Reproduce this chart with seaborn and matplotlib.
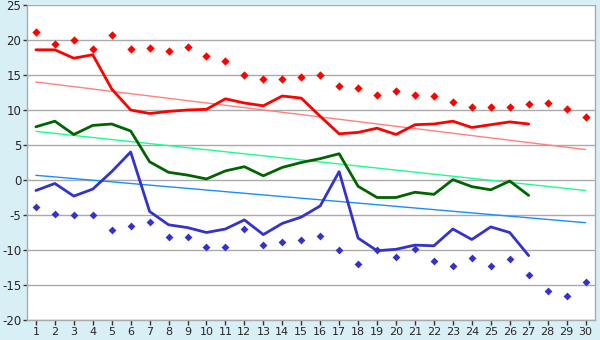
import matplotlib
matplotlib.use("Agg")
import matplotlib.pyplot as plt
import seaborn as sns

# Days of the month
days = list(range(1, 31))
line_days = list(range(1, 28))

# Daily maximum temperature
temp_max = [18.6, 18.6, 17.4, 17.9, 13.0, 10.0, 9.5, 9.8, 10.0, 10.1,
            11.6, 11.0, 10.6, 12.0, 11.7, 9.1, 6.6, 6.8, 7.4, 6.5,
            7.9, 8.0, 8.4, 7.5, 7.9, 8.3, 8.0]
# Daily mean temperature
temp_mean = [7.6, 8.4, 6.5, 7.8, 8.0, 7.0, 2.6, 1.1, 0.7, 0.15,
             1.3, 1.9, 0.6, 1.8, 2.5, 3.05, 3.75, -0.9, -2.5, -2.5,
             -1.75, -2.05, 0.05, -0.95, -1.4, -0.15, -2.2]
# Daily minimum temperature
temp_min = [-1.5, -0.5, -2.3, -1.3, 1.2, 4.0, -4.5, -6.4, -6.8, -7.5,
            -7.0, -5.7, -7.8, -6.2, -5.3, -3.7, 1.2, -8.3, -10.1, -9.9,
            -9.3, -9.4, -7.0, -8.5, -6.7, -7.5, -10.8]

# Record high and record low for each day
record_high = [21.2, 19.4, 20.0, 18.7, 20.7, 18.7, 18.8, 18.5, 19.0, 17.7,
               17.0, 15.0, 14.5, 14.5, 14.7, 15.0, 13.4, 13.2, 12.2, 12.7,
               12.2, 12.0, 11.1, 10.4, 10.4, 10.4, 10.8, 11.0, 10.2, 9.0]
record_low = [-3.8, -4.8, -5.0, -5.0, -7.2, -6.6, -6.0, -8.2, -8.2, -9.6,
              -9.6, -7.0, -9.3, -8.8, -8.5, -8.0, -10.0, -12.0, -10.0, -11.0,
              -9.8, -11.6, -12.3, -11.2, -12.3, -11.3, -13.6, -15.9, -16.6, -14.6]

# Long-term normals at start and end of the month
normal_days = [1, 30]
normal_max = [14.0, 4.35]
normal_mean = [6.95, -1.5]
normal_min = [0.67, -6.1]

y_ticks = [-20, -15, -10, -5, 0, 5, 10, 15, 20, 25]
y_labels = ["-20", "-15", "-10", "-5", "0", "5", "10", "15", "20", "25"]
x_labels = [str(d) for d in days]

bg = "#d9eff6"
grid_c = "#aaaaaa"

sns.set_theme(style="white")
plt.rcParams["font.family"] = ["DejaVu Sans"]

fig = plt.figure(figsize=(6, 3.4), dpi=100, facecolor=bg)
ax = fig.add_axes([27 / 600, 1 - 320 / 340, (595 - 27) / 600, (320 - 5) / 340])
ax.set_facecolor("white")

for yv in y_ticks:
    ax.axhline(yv, color=grid_c, lw=1.0, zorder=0)

# Normals
sns.lineplot(x=normal_days, y=normal_max, ax=ax, color="#ff8080", lw=1.0, zorder=1)
sns.lineplot(x=normal_days, y=normal_mean, ax=ax, color="#1aff8c", lw=1.0, zorder=1)
sns.lineplot(x=normal_days, y=normal_min, ax=ax, color="#1a8cff", lw=1.0, zorder=1)

# Records
sns.scatterplot(x=days, y=record_high, ax=ax, color="#ff0000", marker="D",
                s=18, linewidth=0, zorder=2)
sns.scatterplot(x=days, y=record_low, ax=ax, color="#3333cc", marker="D",
                s=16, linewidth=0, zorder=2)

# Daily values
sns.lineplot(x=line_days, y=temp_max, ax=ax, color="#ff0000", lw=2.0, zorder=3)
sns.lineplot(x=line_days, y=temp_mean, ax=ax, color="#006400", lw=2.0, zorder=3)
sns.lineplot(x=line_days, y=temp_min, ax=ax, color="#3333cc", lw=2.0, zorder=3)

ax.set_xlim(0.53, 30.5)
ax.set_ylim(-20, 25)
ax.set_xticks(days)
ax.set_xticklabels(x_labels)
ax.set_yticks(y_ticks)
ax.set_yticklabels(y_labels)
ax.set_xlabel("")
ax.set_ylabel("")

for side in ["left", "bottom", "right"]:
    ax.spines[side].set_visible(True)
    ax.spines[side].set_color(grid_c)
    ax.spines[side].set_linewidth(1.0)
ax.spines["top"].set_visible(False)

ax.tick_params(axis="x", which="major", direction="out", length=3.6, width=1,
               color="#333333", labelsize=8, pad=1.5, bottom=True)
ax.tick_params(axis="y", which="major", direction="out", length=3, width=1,
               color="#333333", labelsize=8.5, pad=1, left=True)
ax.grid(False)

fig.savefig("out.png", dpi=100, facecolor=bg)
